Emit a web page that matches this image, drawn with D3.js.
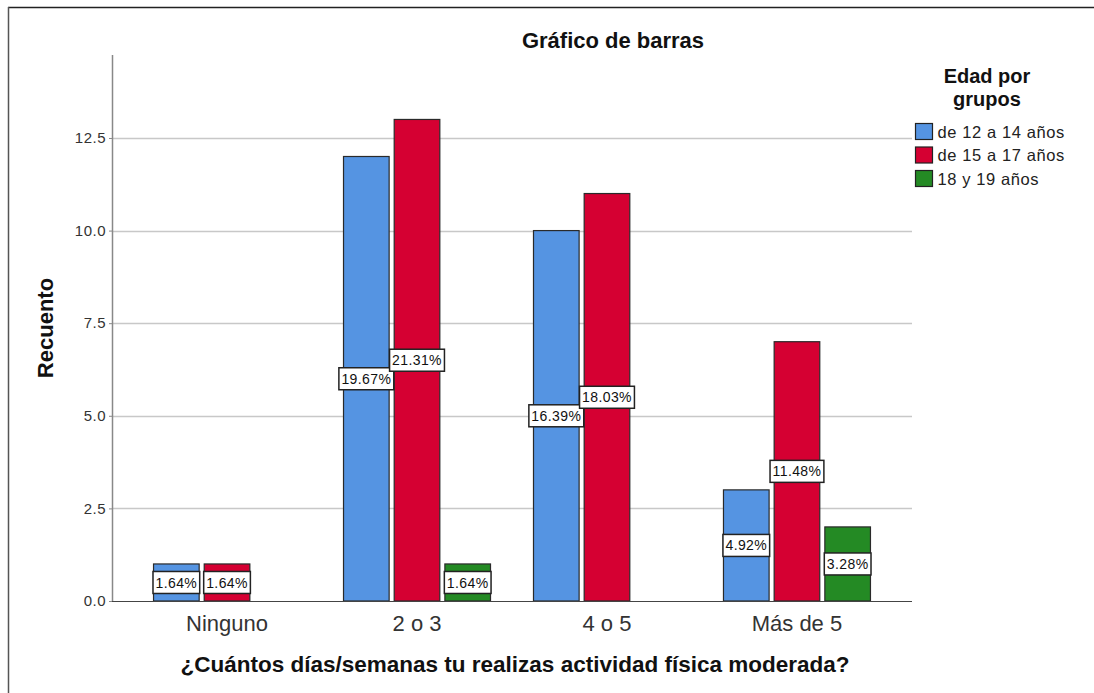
<!DOCTYPE html>
<html>
<head>
<meta charset="utf-8">
<script src="https://cdn.jsdelivr.net/npm/d3@7"></script>
<style>
  body { margin: 0; background: #fff; }
  text { font-family: Arial, "Liberation Sans", sans-serif; }
</style>
</head>
<body>
<div id="chart"></div>
<script>
// data
var categories = ["Ninguno", "2 o 3", "4 o 5", "Más de 5"];
var groups = ["de 12 a 14 años", "de 15 a 17 años", "18 y 19 años"];
var counts12a14 = [1, 12, 10, 3];
var counts15a17 = [1, 13, 11, 7];
var counts18y19 = [0, 1, 0, 2];
var pct12a14 = ["1.64%", "19.67%", "16.39%", "4.92%"];
var pct15a17 = ["1.64%", "21.31%", "18.03%", "11.48%"];
var pct18y19 = ["", "1.64%", "", "3.28%"];
var yTicks = [0, 2.5, 5, 7.5, 10, 12.5];

var colors = ["#5594e2", "#d50032", "#248a24"];

var W = 1094, H = 693;
var plot = { left: 112, right: 912, top: 55, bottom: 601 };

var svg = d3.select("#chart").append("svg")
    .attr("width", W)
    .attr("height", H);

// frame (top and left edges only)
svg.append("line").attr("x1", 8).attr("x2", W).attr("y1", 7.5).attr("y2", 7.5)
    .attr("stroke", "#222").attr("stroke-width", 1.5);
svg.append("line").attr("x1", 8.5).attr("x2", 8.5).attr("y1", 7).attr("y2", H)
    .attr("stroke", "#555").attr("stroke-width", 1.5);

var y = d3.scaleLinear().domain([0, 14.74]).range([plot.bottom, plot.top]);

var x0 = d3.scaleBand()
    .domain(categories)
    .range([plot.left, plot.right])
    .paddingInner(0.221)
    .paddingOuter(0.216);

var x1 = d3.scaleBand()
    .domain(groups)
    .range([0, x0.bandwidth()])
    .paddingInner(0.08);

// gridlines
svg.append("g").selectAll("line")
    .data(yTicks.filter(function (d) { return d > 0; }))
    .enter().append("line")
    .attr("x1", plot.left).attr("x2", plot.right)
    .attr("y1", function (d) { return Math.round(y(d)) + 0.5; })
    .attr("y2", function (d) { return Math.round(y(d)) + 0.5; })
    .attr("stroke", "#c8c8c8").attr("stroke-width", 1.5);

// y axis
var yAxis = d3.axisLeft(y).tickValues(yTicks).tickFormat(d3.format(".1f")).tickSize(3).tickPadding(3);
var gy = svg.append("g").attr("transform", "translate(" + plot.left + ",0)").call(yAxis);
gy.select(".domain").remove();
gy.selectAll(".tick line").attr("stroke", "#888");
gy.selectAll(".tick text").attr("font-size", 15).attr("letter-spacing", 0.5).attr("fill", "#333");
svg.append("line").attr("x1", plot.left + 0.5).attr("x2", plot.left + 0.5)
    .attr("y1", plot.top).attr("y2", plot.bottom)
    .attr("stroke", "#888").attr("stroke-width", 1.5);

// bars
var rows = categories.map(function (c, i) {
  return {
    cat: c,
    values: [
      { g: groups[0], v: counts12a14[i], p: pct12a14[i], k: 0 },
      { g: groups[1], v: counts15a17[i], p: pct15a17[i], k: 1 },
      { g: groups[2], v: counts18y19[i], p: pct18y19[i], k: 2 }
    ]
  };
});

var cg = svg.append("g").selectAll("g")
    .data(rows)
    .enter().append("g")
    .attr("transform", function (d) { return "translate(" + x0(d.cat) + ",0)"; });

cg.selectAll("rect")
    .data(function (d) { return d.values.filter(function (e) { return e.v > 0; }); })
    .enter().append("rect")
    .attr("x", function (d) { return x1(d.g) + 0.5; })
    .attr("y", function (d) { return y(d.v); })
    .attr("width", x1.bandwidth() - 1)
    .attr("height", function (d) { return y(0) - y(d.v); })
    .attr("fill", function (d) { return colors[d.k]; })
    .attr("stroke", "#2a2a2a")
    .attr("stroke-width", 1.2);

// baseline
svg.append("line").attr("x1", plot.left).attr("x2", plot.right)
    .attr("y1", plot.bottom + 0.5).attr("y2", plot.bottom + 0.5)
    .attr("stroke", "#444").attr("stroke-width", 1.2);

// percentage labels
var lab = cg.selectAll("g.lab")
    .data(function (d) { return d.values.filter(function (e) { return e.v > 0; }); })
    .enter().append("g")
    .attr("class", "lab")
    .attr("transform", function (d) {
      return "translate(" + (x1(d.g) + x1.bandwidth() / 2) + "," + y(d.v / 2) + ")";
    });

lab.append("text")
    .attr("text-anchor", "middle")
    .attr("dy", "0.36em")
    .attr("font-size", 14)
    .attr("letter-spacing", 0.4)
    .attr("fill", "#111")
    .text(function (d) { return d.p; })
    .each(function () {
      var b = this.getBBox();
      d3.select(this.parentNode).insert("rect", "text")
        .attr("x", b.x - 2.5).attr("y", -11)
        .attr("width", b.width + 5).attr("height", 22)
        .attr("fill", "#fff").attr("stroke", "#222").attr("stroke-width", 1.5);
    });

// x axis labels
svg.append("g").selectAll("text")
    .data(categories)
    .enter().append("text")
    .attr("x", function (d) { return x0(d) + x0.bandwidth() / 2; })
    .attr("y", 631)
    .attr("text-anchor", "middle")
    .attr("font-size", 22)
    .attr("fill", "#333")
    .text(function (d) { return d; });

// titles
svg.append("text").attr("x", 613).attr("y", 48).attr("text-anchor", "middle")
    .attr("font-size", 22).attr("font-weight", "bold").attr("fill", "#111")
    .text("Gráfico de barras");

svg.append("text").attr("x", 515).attr("y", 672).attr("text-anchor", "middle")
    .attr("font-size", 22.5).attr("font-weight", "bold").attr("fill", "#111")
    .text("¿Cuántos días/semanas tu realizas actividad física moderada?");

svg.append("text").attr("transform", "translate(53,328) rotate(-90)")
    .attr("text-anchor", "middle")
    .attr("font-size", 22).attr("font-weight", "bold").attr("fill", "#111")
    .text("Recuento");

// legend
svg.append("text").attr("x", 987).attr("y", 83).attr("text-anchor", "middle")
    .attr("font-size", 20).attr("font-weight", "bold").attr("fill", "#111")
    .text("Edad por");
svg.append("text").attr("x", 987).attr("y", 106).attr("text-anchor", "middle")
    .attr("font-size", 20).attr("font-weight", "bold").attr("fill", "#111")
    .text("grupos");

var leg = svg.append("g").selectAll("g")
    .data(groups)
    .enter().append("g")
    .attr("transform", function (d, i) { return "translate(915.5," + (123.5 + i * 23.5) + ")"; });

leg.append("rect")
    .attr("width", 17).attr("height", 16)
    .attr("fill", function (d, i) { return colors[i]; })
    .attr("stroke", "#222").attr("stroke-width", 1.2);

leg.append("text")
    .attr("x", 22).attr("y", 14)
    .attr("font-size", 16.5).attr("letter-spacing", 0.6).attr("fill", "#222")
    .text(function (d) { return d; });
</script>
</body>
</html>
